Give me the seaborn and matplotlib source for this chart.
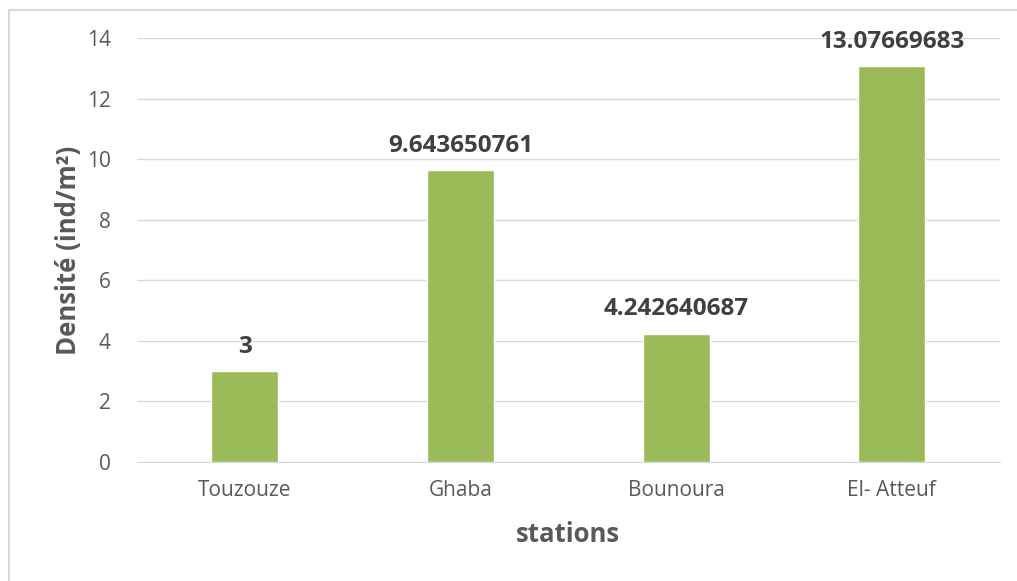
import matplotlib.pyplot as plt
import seaborn as sns
import pandas as pd
from matplotlib.patches import Rectangle

# data
stations = ['Touzouze', 'Ghaba', 'Bounoura', 'El- Atteuf']
densite = [3, 9.643650761, 4.242640687, 13.07669683]
labels = ['3', '9.643650761', '4.242640687', '13.07669683']
yticks = [0, 2, 4, 6, 8, 10, 12, 14]

df = pd.DataFrame({'station': stations, 'densite': densite})

sns.set_style('white')
plt.rcParams['font.family'] = ['Open Sans', 'DejaVu Sans']

fig = plt.figure(figsize=(10.17, 5.81), dpi=100)
ax = fig.add_axes([0.1347, 0.2048, 0.8483, 0.7298])

sns.barplot(data=df, x='station', y='densite', color='#9BBB59', saturation=1,
            width=0.31, ax=ax, zorder=3)

for i, (v, t) in enumerate(zip(densite, labels)):
    ax.text(i, v + 0.4, t, ha='center', va='bottom', fontsize=17.5,
            fontweight='bold', color='#404040')

ax.set_ylim(0, 14)
ax.set_yticks(yticks)
ax.set_xlim(-0.5, 3.5)
ax.grid(axis='y', color='#D9D9D9', linewidth=1, zorder=0)
ax.set_axisbelow(True)
for s in ['top', 'right', 'left']:
    ax.spines[s].set_visible(False)
ax.spines['bottom'].set_color('#D9D9D9')
ax.tick_params(axis='both', length=0, labelsize=15, colors='#595959')
ax.tick_params(axis='y', pad=19)
ax.tick_params(axis='x', pad=13)

ax.set_xlabel('stations', fontsize=18.5, fontweight='bold', color='#595959', labelpad=14)
ax.set_ylabel('Densité (ind/m²)', fontsize=18.5, fontweight='bold', color='#595959', labelpad=3)

# chart frame (cropped at right and bottom)
fig.patches.append(Rectangle((9 / 1017, -0.05), 1.1, 0.05 + (581 - 10) / 581,
                             transform=fig.transFigure, fill=False,
                             edgecolor='#D9D9D9', linewidth=1.5))

fig.savefig('out.png', dpi=100)
